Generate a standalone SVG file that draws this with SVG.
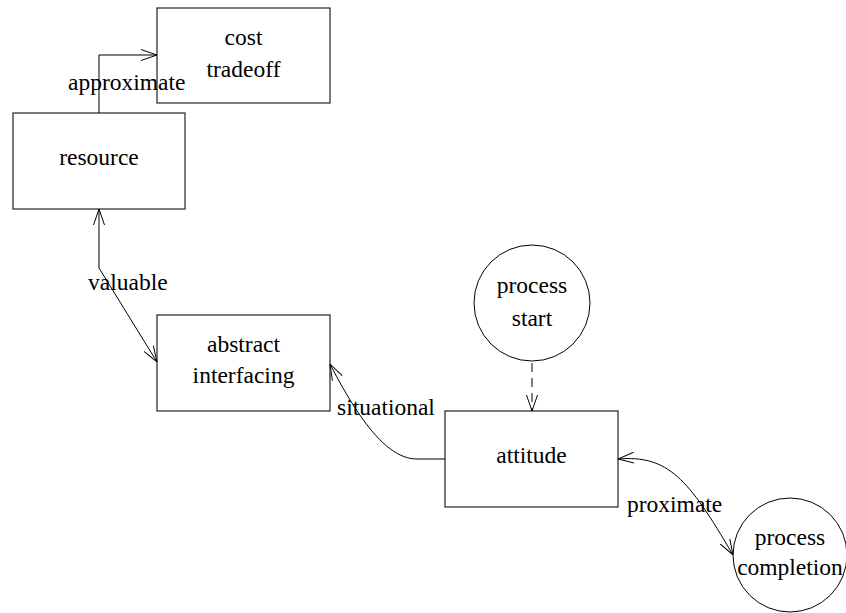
<svg xmlns="http://www.w3.org/2000/svg" width="846" height="613" viewBox="0 0 846 613">
<style>
.box{fill:#fff;stroke:#333;stroke-width:1.3}
.circ{fill:#fff;stroke:#000;stroke-width:1}
.t{font-family:'Liberation Serif','Times New Roman',Tinos,'DejaVu Serif',serif;font-size:23.5px;fill:#000;text-anchor:middle}
.lbl{font-family:'Liberation Serif','Times New Roman',Tinos,'DejaVu Serif',serif;font-size:23.5px;fill:#000}
.c{fill:none;stroke:#000;stroke-width:1}
</style>
<defs>
<marker id="ah" viewBox="0 0 16 12" refX="16" refY="6" markerWidth="16" markerHeight="12" markerUnits="userSpaceOnUse" orient="auto-start-reverse">
<path d="M0,0.5 L16,6 L0,11.5" fill="none" stroke="#000" stroke-width="1"/>
</marker>
</defs>
<rect width="846" height="613" fill="#fff"/>
<g id="cost_tradeoff"><rect class="box" x="157" y="8" width="173" height="95"/><text class="t" x="243.5" y="45">cost</text><text class="t" x="243.5" y="77">tradeoff</text></g>
<g id="resource"><rect class="box" x="13" y="113" width="172" height="96"/><text class="t" x="99" y="165">resource</text></g>
<g id="abstract_interfacing"><rect class="box" x="157" y="315" width="173" height="96"/><text class="t" x="243.5" y="352">abstract</text><text class="t" x="243.5" y="383">interfacing</text></g>
<g id="attitude"><rect class="box" x="445" y="411" width="173" height="96"/><text class="t" x="531.5" y="463">attitude</text></g>
<g id="process_start"><circle class="circ" cx="532" cy="303" r="58"/><text class="t" x="532" y="293">process</text><text class="t" x="532" y="326">start</text></g>
<g id="process_completion"><circle class="circ" cx="790" cy="555" r="57"/><text class="t" x="790" y="545">process</text><text class="t" x="790" y="575">completion</text></g>
<g id="connectors">
<path class="c" d="M99,113 L99,55 L157,55" marker-end="url(#ah)"/>
<text class="lbl" x="68" y="90">approximate</text>
<path class="c" d="M99,209 L99,268 L157,362" marker-start="url(#ah)" marker-end="url(#ah)"/>
<text class="lbl" x="88" y="290">valuable</text>
<path class="c" d="M445,459 L417,459 C392,459 365,432 330,364" marker-end="url(#ah)"/>
<text class="lbl" x="337" y="415">situational</text>
<path class="c" d="M532,363 L532,411" stroke-dasharray="9,6" marker-end="url(#ah)"/>
<path class="c" d="M618,459 C668,455 688,478 733,555" marker-start="url(#ah)" marker-end="url(#ah)"/>
<text class="lbl" x="627" y="512">proximate</text>
</g>
</svg>
